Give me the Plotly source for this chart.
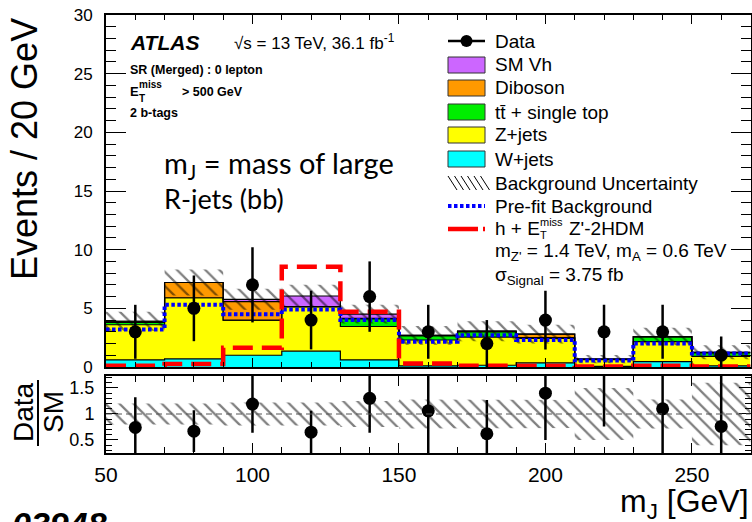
import plotly.graph_objects as go

# ---------------- data ----------------
edges = [50, 70, 90, 110, 130, 150, 170, 190, 210, 230, 250, 270]
centers = [60, 80, 100, 120, 140, 160, 180, 200, 220, 240, 260]

w_jets  = [0.60, 0.70, 1.00, 1.35, 0.60, 0.10, 0.15, 0.35, 0.05, 0.45, 0.10]
z_jets  = [3.00, 5.20, 3.00, 3.80, 2.85, 2.20, 2.40, 2.09, 0.57, 1.71, 0.80]
ttbar   = [0.20, 0.00, 0.00, 0.00, 0.65, 0.35, 0.45, 0.06, 0.06, 0.39, 0.30]
diboson = [0.10, 1.30, 1.57, 0.00, 0.05, 0.05, 0.05, 0.31, 0.00, 0.05, 0.05]
sm_vh   = [0.00, 0.00, 0.20, 0.90, 0.35, 0.00, 0.00, 0.00, 0.00, 0.00, 0.00]
bkg_unc = [0.80, 1.10, 0.90, 0.95, 0.80, 0.80, 0.85, 0.80, 0.35, 0.75, 0.60]

prefit = [3.2, 5.3, 4.5, 4.9, 4.0, 2.15, 2.7, 2.3, 0.55, 2.0, 1.15]
signal = [0.1, 0.25, 1.65, 8.55, 4.7, 0.3, 0.1, 0.1, 0.05, 0.1, 0.05]

data     = [3, 5, 7, 4, 6, 3, 2, 4, 3, 3, 1]
data_err = [2.3, 2.8, 3.2, 2.5, 3.0, 2.3, 2.0, 2.5, 2.3, 2.3, 1.6]

ratio     = [0.74, 0.67, 1.19, 0.65, 1.30, 1.06, 0.62, 1.40, 4.30, 1.10, 0.76]
ratio_err = [0.58, 0.40, 0.55, 0.41, 0.66, 0.85, 0.65, 0.90, 3.54, 0.88, 1.20]
ratio_unc = [0.20, 0.20, 0.22, 0.22, 0.25, 0.28, 0.28, 0.27, 0.50, 0.28, 0.60]

x_ticks = [50, 100, 150, 200, 250]
y_ticks = [0, 5, 10, 15, 20, 25, 30]
r_ticks = [0.5, 1, 1.5]
r_ticktext = ["0.5", "1", "1.5"]

# ---------------- helpers ----------------
W, H = 752, 522
def px(x):
    return x / W
def py(y):
    return 1 - y / H

def step(vals):
    return list(vals) + [vals[-1]]

def band(center_vals, unc_vals):
    xs, ys = [], []
    for i in range(len(center_vals)):
        xs += [edges[i], edges[i + 1]]
        ys += [center_vals[i] + unc_vals[i]] * 2
    for i in reversed(range(len(center_vals))):
        xs += [edges[i + 1], edges[i]]
        ys += [center_vals[i] - unc_vals[i]] * 2
    return xs, ys

FONT = "Liberation Sans, Arial, sans-serif"
HATCH = dict(shape="\\", fgcolor="black", bgcolor="rgba(0,0,0,0)", size=10, solidity=0.22)

fig = go.Figure()

# stacked backgrounds
components = [
    ("W+jets", w_jets, "#00FFFF"),
    ("Z+jets", z_jets, "#FFFF00"),
    ("ttbar", ttbar, "#00EE00"),
    ("Diboson", diboson, "#FF9900"),
    ("SM Vh", sm_vh, "#CC66FF"),
]
cum = [0.0] * len(edges[:-1])
for i, (name, vals, col) in enumerate(components):
    cum = [c + v for c, v in zip(cum, vals)]
    fig.add_trace(go.Scatter(
        x=edges, y=step(cum), mode="lines", line=dict(shape="hv", color="black", width=1.2),
        fill="tozeroy" if i == 0 else "tonexty", fillcolor=col, name=name,
        showlegend=False, xaxis="x", yaxis="y", hoverinfo="skip"))
total = cum

# uncertainty hatch (main)
bx, by = band(total, bkg_unc)
fig.add_trace(go.Scatter(
    x=bx, y=by, mode="lines", line=dict(width=0), fill="toself",
    fillcolor="rgba(0,0,0,0)", fillpattern=HATCH,
    showlegend=False, xaxis="x", yaxis="y", hoverinfo="skip"))

# pre-fit
fig.add_trace(go.Scatter(
    x=edges, y=step(prefit), mode="lines",
    line=dict(shape="hv", color="#0000FF", width=4, dash="3.5px,2.5px"),
    showlegend=False, xaxis="x", yaxis="y"))

# signal
fig.add_trace(go.Scatter(
    x=edges, y=step(signal), mode="lines",
    line=dict(shape="hv", color="#FF0000", width=4.5, dash="20px,9px"),
    showlegend=False, xaxis="x", yaxis="y"))

# data
fig.add_trace(go.Scatter(
    x=centers, y=data, mode="markers",
    marker=dict(color="black", size=13),
    error_y=dict(type="data", array=data_err, color="black", thickness=2.5, width=0),
    showlegend=False, xaxis="x", yaxis="y"))

# ratio band
rx, ry = band([1.0] * len(ratio_unc), ratio_unc)
fig.add_trace(go.Scatter(
    x=rx, y=ry, mode="lines", line=dict(width=0), fill="toself",
    fillcolor="rgba(0,0,0,0)", fillpattern=HATCH,
    showlegend=False, xaxis="x2", yaxis="y2", hoverinfo="skip"))

fig.add_trace(go.Scatter(
    x=centers, y=ratio, mode="markers",
    marker=dict(color="black", size=13),
    error_y=dict(type="data", array=ratio_err, color="black", thickness=2.5, width=0),
    showlegend=False, xaxis="x2", yaxis="y2"))

# ---------------- axes ----------------
xl, xr = px(106), px(750.5)
common_x = dict(range=[50, 270], showline=True, linecolor="black", linewidth=2, mirror="ticks",
                ticks="inside", tickcolor="black", tickwidth=1.2, showgrid=False, zeroline=False,
                tickvals=x_ticks, layer="above traces", automargin=False,
                ticklabeloverflow="allow")

fig.update_layout(
    width=W, height=H, margin=dict(l=0, r=0, t=0, b=0, autoexpand=False),
    paper_bgcolor="white", plot_bgcolor="white", showlegend=False,
    xaxis=dict(domain=[xl, xr], anchor="y", showticklabels=False, ticklen=9,
               minor=dict(dtick=10, tick0=50, ticklen=5, ticks="inside", tickcolor="black"),
               **common_x),
    yaxis=dict(domain=[py(367), py(15)], anchor="x", range=[0, 30], tickvals=y_ticks,
               showline=True, linecolor="black", linewidth=2, mirror="ticks",
               ticks="inside", ticklen=20, tickcolor="black", tickwidth=1.2,
               minor=dict(dtick=1, ticklen=10, ticks="inside", tickcolor="black"),
               showgrid=False, zeroline=False, layer="above traces", automargin=False,
               ticklabeloverflow="allow",
               tickfont=dict(family=FONT, size=17, color="black"), ticklabelstandoff=8),
    xaxis2=dict(domain=[xl, xr], anchor="y2", ticklen=10,
                minor=dict(dtick=10, tick0=50, ticklen=6, ticks="inside", tickcolor="black"),
                tickfont=dict(family=FONT, size=21, color="black"), ticklabelstandoff=2,
                **common_x),
    yaxis2=dict(domain=[py(453), py(376)], anchor="x2", range=[0.25, 1.73],
                tickvals=r_ticks, ticktext=r_ticktext,
                showline=True, linecolor="black", linewidth=2, mirror="ticks",
                ticks="inside", ticklen=12, tickcolor="black", tickwidth=1.2,
                minor=dict(dtick=0.1, tick0=0, ticklen=6, ticks="inside", tickcolor="black"),
                showgrid=False, zeroline=False, layer="above traces", automargin=False,
                ticklabeloverflow="allow",
                tickfont=dict(family=FONT, size=18, color="black"), ticklabelstandoff=6),
)

shapes = []
annotations = []

# reference line at 1 in ratio
shapes.append(dict(type="line", xref="x2", yref="y2", x0=50, x1=270, y0=1, y1=1,
                   line=dict(color="#555555", width=1.2, dash="6px,4px")))

def text(x, y, s, size=19, xanchor="left", yanchor="middle", family=FONT, angle=0):
    annotations.append(dict(x=px(x), y=py(y), xref="paper", yref="paper", text=s,
                            showarrow=False, xanchor=xanchor, yanchor=yanchor, textangle=angle,
                            font=dict(family=family, size=size, color="black")))

# axis titles
text(25, 149, "Events / 20 GeV", size=36, xanchor="center", angle=-90)
text(23, 412, "Data", size=28, xanchor="center", angle=-90)
text(53, 412, "SM", size=28, xanchor="center", angle=-90)
shapes.append(dict(type="line", xref="paper", yref="paper", x0=px(38), x1=px(38),
                   y0=py(380), y1=py(446), line=dict(color="black", width=2)))
text(751, 503, "m<sub>J</sub> [GeV]", size=32, xanchor="right")
text(10, 503, "<b><i>03948</i></b>", size=34, yanchor="top")

# ATLAS label block
text(128, 42, "<b><i>ATLAS</i></b>", size=21)
text(232, 42, "√s = 13 TeV, 36.1 fb<sup>-1</sup>", size=17)
text(128, 70, "<b>SR (Merged) : 0 lepton</b>", size=12.5)
text(128, 92, "<b>E</b>", size=13)
text(137, 84, "<b>miss</b>", size=10)
text(137, 98, "<b>T</b>", size=10)
text(180, 92, "<b>> 500 GeV</b>", size=12.5)
text(128, 113, "<b>2 b-tags</b>", size=12.5)

LATO = "Lato, Open Sans, sans-serif"
text(162, 164, "m<sub>J</sub>\u00a0= mass of large", size=29, family=LATO)
text(162, 198, "R-jets (bb)", size=27, family=LATO)

# legend
rows = [41, 65, 88, 112, 135, 159, 183, 206, 229, 252, 276]
lx0, lx1, tx = 448, 485, 493
# data
shapes.append(dict(type="line", xref="paper", yref="paper", x0=px(lx0), x1=px(lx1),
                   y0=py(rows[0]), y1=py(rows[0]), line=dict(color="black", width=2.5)))
shapes.append(dict(type="circle", xref="paper", yref="paper", x0=px(460.5), x1=px(472.5),
                   y0=py(rows[0] + 6), y1=py(rows[0] - 6), fillcolor="black", line=dict(width=0)))
text(tx, rows[0], "Data")
box_items = [("SM Vh", "#CC66FF"), ("Diboson", "#FF9900"), ("tt\u0304 + single top", "#00EE00"),
             ("Z+jets", "#FFFF00"), ("W+jets", "#00FFFF")]
for k, (lab, col) in enumerate(box_items):
    r = rows[k + 1]
    shapes.append(dict(type="rect", xref="paper", yref="paper", x0=px(lx0), x1=px(lx1),
                       y0=py(r + 8), y1=py(r - 8), fillcolor=col, line=dict(color="#333333", width=1)))
    text(tx, r, lab)
# hatch icon
r = rows[6]
for k in range(6):
    x0 = lx0 + k * 6.5
    shapes.append(dict(type="line", xref="paper", yref="paper", x0=px(x0), x1=px(x0 + 9),
                       y0=py(r - 7), y1=py(r + 7), line=dict(color="black", width=1)))
text(tx, r, "Background Uncertainty")
# prefit
r = rows[7]
shapes.append(dict(type="line", xref="paper", yref="paper", x0=px(lx0), x1=px(lx1),
                   y0=py(r), y1=py(r), line=dict(color="#0000FF", width=4, dash="3.5px,2.5px")))
text(tx, r, "Pre-fit Background")
# signal
r = rows[8]
shapes.append(dict(type="line", xref="paper", yref="paper", x0=px(lx0), x1=px(lx1),
                   y0=py(r), y1=py(r), line=dict(color="#FF0000", width=4.5, dash="30px,5px")))
text(tx, r, "h + E")
text(538, r + 6, "T", size=11)
text(538, r - 7, "miss", size=11)
text(567, r, "Z'-2HDM")
text(tx, rows[9], "m<sub>Z'</sub> = 1.4 TeV, m<sub>A</sub> = 0.6 TeV")
text(tx, rows[10], "σ<sub>Signal</sub> = 3.75 fb")

fig.update_layout(shapes=shapes, annotations=annotations)
fig.write_html("out.html", config={"displayModeBar": False},
               post_script="document.body.style.margin='0px';document.body.style.overflow='hidden';")
